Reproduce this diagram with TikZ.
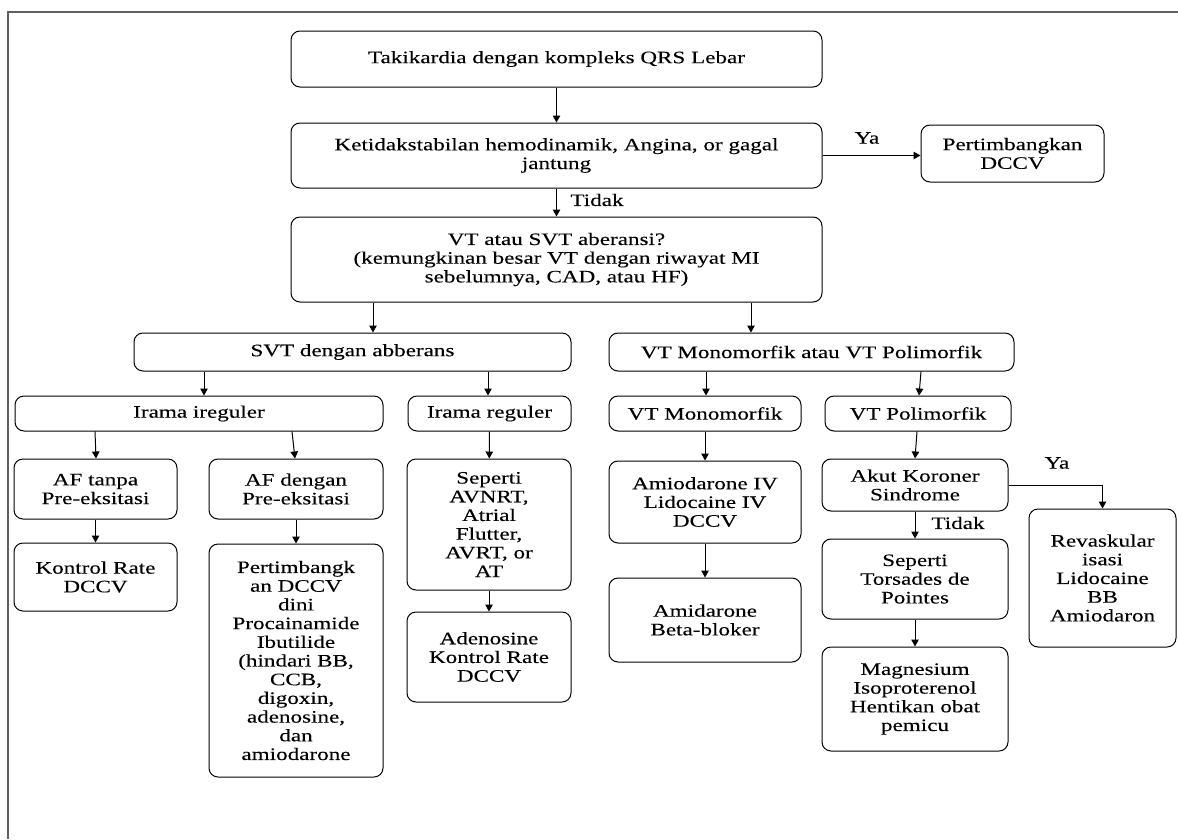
\documentclass[tikz,border=0pt]{standalone}
\usepackage{fontspec}
\setmainfont[FakeStretch=1.32,FakeBold=0.15]{Liberation Serif}
\usetikzlibrary{arrows.meta}

\tikzset{
  box/.style={draw, rounded corners=9pt, align=center, inner sep=1pt, line width=1pt,
    font=\fontsize{17.5}{18.7}\selectfont},
  arr/.style={-{Triangle[length=7pt,width=7.5pt]}, line width=1pt},
  lbl/.style={font=\fontsize{17.5}{18.7}\selectfont, inner sep=0pt}
}

\begin{document}
\begin{tikzpicture}[x=1pt,y=-1pt]
  \useasboundingbox (0,0) rectangle (1178,839);
  \draw[gray!75!black, line width=2pt] (7.5,839) -- (7.5,12) -- (1178,12);

  % first column of decisions
  \node (top) at (556.5,59) [box, minimum width=531pt, minimum height=56pt] {Takikardia dengan kompleks QRS Lebar};
  \node (unstable) at (556.5,155.5) [box, minimum width=531pt, minimum height=65pt] {Ketidakstabilan hemodinamik, Angina, or gagal\\jantung};
  \node (dccv) at (1012.5,153.5) [box, minimum width=183pt, minimum height=57pt] {Pertimbangkan\\DCCV};
  \node (vtsvt) at (556.5,259.5) [box, minimum width=531pt, minimum height=85pt] {VT atau SVT aberansi?\\(kemungkinan besar VT dengan riwayat MI\\sebelumnya, CAD, atau HF)};

  \node (svt) at (352.5,352) [box, minimum width=437pt, minimum height=38pt] {SVT dengan abberans};
  \node (vtmp) at (811.5,352) [box, minimum width=405pt, minimum height=38pt] {VT Monomorfik atau VT Polimorfik};

  \node (irreg) at (199,413.5) [box, minimum width=368pt, minimum height=35pt] {Irama ireguler};
  \node (reg) at (489.5,413.5) [box, minimum width=163pt, minimum height=35pt] {Irama reguler};
  \node (vtmono) at (705,413.5) [box, minimum width=192pt, minimum height=35pt] {VT Monomorfik};
  \node (vtpoly) at (918,413.5) [box, minimum width=186pt, minimum height=35pt] {VT Polimorfik};

  \node (aftanpa) at (95.5,489) [box, minimum width=163pt, minimum height=60pt] {AF tanpa\\Pre-eksitasi};
  \node (afdengan) at (296,489) [box, minimum width=174pt, minimum height=60pt] {AF dengan\\Pre-eksitasi};
  \node (seperti) at (489,524.5) [box, minimum width=164pt, minimum height=131pt] {Seperti\\AVNRT,\\Atrial\\Flutter,\\AVRT, or\\AT};
  \node (amio) at (705,502) [box, minimum width=192pt, minimum height=82pt] {Amiodarone IV\\Lidocaine IV\\DCCV};
  \node (akut) at (915,485) [box, minimum width=186pt, minimum height=52pt] {Akut Koroner\\Sindrome};

  \node (kontrol) at (95.5,577) [box, minimum width=163pt, minimum height=68pt] {Kontrol Rate\\DCCV};
  \node (pertim) at (296,660.5) [box, minimum width=174pt, minimum height=233pt] {Pertimbangk\\an DCCV\\dini\\Procainamide\\Ibutilide\\(hindari BB,\\CCB,\\digoxin,\\adenosine,\\dan\\amiodarone};
  \node (adeno) at (489,657) [box, minimum width=164pt, minimum height=90pt] {Adenosine\\Kontrol Rate\\DCCV};
  \node (amidar) at (705,620) [box, minimum width=192pt, minimum height=84pt] {Amidarone\\Beta-bloker};
  \node (torsades) at (915,579) [box, minimum width=186pt, minimum height=80pt] {Seperti\\Torsades de\\Pointes};
  \node (magnes) at (915,699) [box, minimum width=186pt, minimum height=104pt] {Magnesium\\Isoproterenol\\Hentikan obat\\pemicu};
  \node (revask) at (1102.5,578) [box, minimum width=147pt, minimum height=138pt] {Revaskular\\isasi\\Lidocaine\\BB\\Amiodaron};

  % labels
  \node (ya1) at (867,138) [lbl] {Ya};
  \node (tidak1) at (597,200) [lbl] {Tidak};
  \node (ya2) at (1057,463) [lbl] {Ya};
  \node (tidak2) at (958,523) [lbl] {Tidak};

  % arrows
  \draw[arr] (top) -- (unstable);
  \draw[arr] (unstable.east) -- (dccv.west |- unstable.east);
  \draw[arr] (unstable) -- (vtsvt);
  \draw[arr] ([xshift=-183.5pt]vtsvt.south) -- ([xshift=20.5pt]svt.north);
  \draw[arr] ([xshift=194.5pt]vtsvt.south) -- ([xshift=-60.5pt]vtmp.north);
  \draw[arr] ([xshift=-148.5pt]svt.south) -- ([xshift=5pt]irreg.north);
  \draw[arr] ([xshift=135.5pt]svt.south) -- ([xshift=-1.5pt]reg.north);
  \draw[arr] ([xshift=-105.5pt]vtmp.south) -- ([xshift=1pt]vtmono.north);
  \draw[arr] ([xshift=109.5pt]vtmp.south) -- ([xshift=1pt]vtpoly.north);
  \draw[arr] ([xshift=-104pt]irreg.south) -- ([xshift=0.5pt]aftanpa.north);
  \draw[arr] ([xshift=93pt]irreg.south) -- ([xshift=-1pt]afdengan.north);
  \draw[arr] (reg) -- (seperti);
  \draw[arr] (vtmono) -- (amio);
  \draw[arr] ([xshift=-1pt]vtpoly.south) -- (akut.north);
  \draw[arr] (aftanpa) -- (kontrol);
  \draw[arr] (afdengan) -- (pertim);
  \draw[arr] (seperti) -- (adeno);
  \draw[arr] (amio) -- (amidar);
  \draw[arr] (akut) -- (torsades);
  \draw[arr] (akut.east) -| (revask.north);
  \draw[arr] (torsades) -- (magnes);
\end{tikzpicture}
\end{document}
